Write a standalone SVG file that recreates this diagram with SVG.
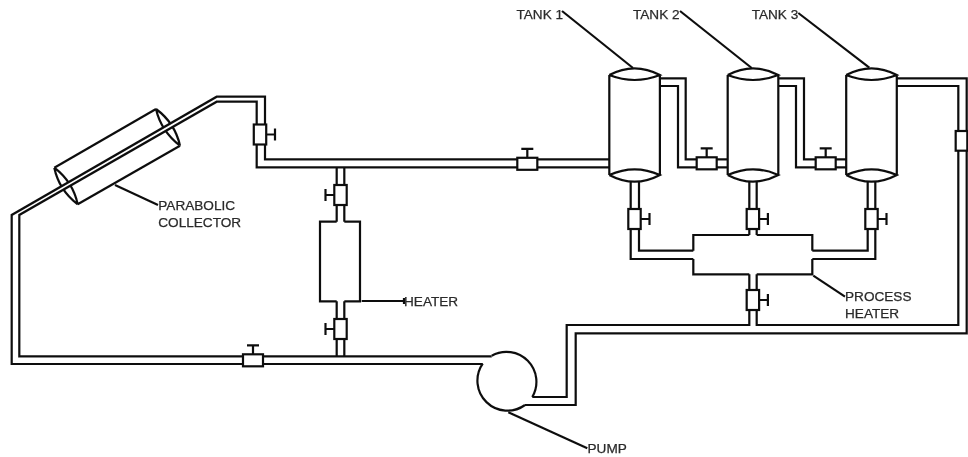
<svg xmlns="http://www.w3.org/2000/svg" xmlns:xlink="http://www.w3.org/1999/xlink" width="968" height="457" viewBox="0 0 968 457">
<style>
.l{fill:none;stroke:#111;stroke-width:2.2;stroke-linejoin:miter}
.b{fill:#fff;stroke:#111;stroke-width:2.2}
.t{font-family:"Liberation Sans",Arial,sans-serif;font-size:13.6px;fill:#2a2a2a;stroke:#2a2a2a;stroke-width:0.25}
</style>
<defs>
<filter id="soft" x="0" y="0" width="968" height="457" filterUnits="userSpaceOnUse"><feGaussianBlur stdDeviation="0.4"/></filter>
<g id="vr"><rect class="b" x="-6.2" y="-10" width="12.4" height="20"/><path class="l" d="M6.2,0H15M15,-6V6"/></g>
<g id="vl"><rect class="b" x="-6.2" y="-10" width="12.4" height="20"/><path class="l" d="M-6.2,0H-15M-15,-6V6"/></g>
<g id="vt"><rect class="b" x="-10" y="-6" width="20" height="12"/><path class="l" d="M0,-6V-15M-6,-15H6"/></g>
<g id="tank"><path class="l" d="M0,0V100M50.6,0V100M0,0Q25.3,-13.4 50.6,0Q25.3,10 0,0M0,100Q25.3,88.6 50.6,100Q25.3,113.4 0,100"/></g>
</defs>
<rect width="968" height="457" fill="#fff"/>
<g filter="url(#soft)">
<g id="parabolic-collector">
<path class="l" d="M54.3,167.7L156,109M77.7,204.3L180,145.7M54.3,167.7Q59,190 77.7,204.3M54.3,167.7Q73,182 77.7,204.3M156,109Q161,131 180,145.7M156,109Q175,123 180,145.7"/>
</g>
<g id="connectors">
<path d="M11.7,215L216.7,96.7V101.7L19.3,215Z" fill="#fff"/>
<path class="l" d="M242.7,364H11.7V215L216.7,96.7H265V125M242.7,356.3H19.3V215L216.7,101.7H256.7V125"/>
<path class="l" d="M256.7,144V167.3H517.3M265,144V159.3H517.3M537.3,159.3H609.3M537.3,167.3H609.3"/>
<path class="l" d="M336.7,167.3V185M344.3,167.3V185M336.7,205V221.7M344.3,205V221.7M336.7,301.3V319M344.3,301.3V319M336.7,339V356.3M344.3,339V356.3"/>
<path class="l" d="M263.3,356.3H491.7M263.3,364H482.7"/>
<path class="l" d="M660,78.3H685.7V159.3H696.7M660,86H678V167.3H696.7M716.7,159.3H727.7M716.7,167.3H727.7"/>
<path class="l" d="M778.3,78.3H804V159.3H815.7M778.3,86H796V167.3H815.7M835.7,159.3H846.3M835.7,167.3H846.3"/>
<path class="l" d="M630.7,181V209M639,181V209M630.7,229.3V259H693.3M639,229.3V250.7H693.3"/>
<path class="l" d="M749.3,181V209M756.7,181V209M749.3,229.3V235M756.7,229.3V235"/>
<path class="l" d="M867.7,181V209M875.3,181V209M875.3,229.3V259H812.3M867.7,229.3V250.7H812.3"/>
<path class="l" d="M749.3,274.3V290M756.7,274.3V290"/>
<path class="l" d="M749.3,310V325H566.7V397H532.3M756.7,310V325H958.3V150.7M958.3,131V86H896.7"/>
<path class="l" d="M525,405H575.7V333.3H966.7V150.7M966.7,131V78.3H896.7"/>
<path class="l" d="M562,11L633,68M680,11L751.7,68M798.3,13L869.3,67.7M115,185L158,205M361.7,301H404M404,298V304M813.3,275.7L845,296.7M508.3,412.3L587.3,448.3"/>
</g>
<g id="tank-1"><use xlink:href="#tank" href="#tank" x="609.3" y="75"/><text class="t" x="516.5" y="19">TANK 1</text></g>
<g id="tank-2"><use xlink:href="#tank" href="#tank" x="727.7" y="75"/><text class="t" x="633" y="19">TANK 2</text></g>
<g id="tank-3"><use xlink:href="#tank" href="#tank" x="846.2" y="75"/><text class="t" x="751.7" y="19">TANK 3</text></g>
<g id="heater"><path class="l" d="M336.7,221.7H320V301.3H336.7M344.3,221.7H360V301.3H344.3"/><text class="t" x="404" y="305.5">HEATER</text></g>
<g id="process-heater"><path class="l" d="M749.3,235H693.3V250.7M693.3,259V274.3H749.3M756.7,235H812.3V250.7M812.3,259V274.3H756.7"/><text class="t" x="845" y="301">PROCESS</text><text class="t" x="845" y="317.7">HEATER</text></g>
<g id="pump"><path class="l" d="M491.7,355.7A30,30 0 0 1 532.3,397M525,405A30,30 0 0 1 482.7,363.7"/><text class="t" x="587.5" y="452.5">PUMP</text></g>
<g id="collector-label"><text class="t" x="158.3" y="210">PARABOLIC</text><text class="t" x="158.3" y="227">COLLECTOR</text></g>
<g id="valve-1"><use xlink:href="#vr" href="#vr" x="260" y="134.5"/></g>
<g id="valve-2"><use xlink:href="#vt" href="#vt" x="527.3" y="163.8"/></g>
<g id="valve-3"><use xlink:href="#vl" href="#vl" x="340.5" y="195"/></g>
<g id="valve-4"><use xlink:href="#vl" href="#vl" x="340.5" y="329"/></g>
<g id="valve-5"><use xlink:href="#vt" href="#vt" x="253" y="360.3"/></g>
<g id="valve-6"><use xlink:href="#vt" href="#vt" x="706.7" y="163.3"/></g>
<g id="valve-7"><use xlink:href="#vt" href="#vt" x="825.7" y="163.3"/></g>
<g id="valve-8"><use xlink:href="#vr" href="#vr" x="634.5" y="219"/></g>
<g id="valve-9"><use xlink:href="#vr" href="#vr" x="752.9" y="219"/></g>
<g id="valve-10"><use xlink:href="#vr" href="#vr" x="871.5" y="219"/></g>
<g id="valve-11"><use xlink:href="#vr" href="#vr" x="752.9" y="300"/></g>
<g id="valve-12"><rect class="b" x="955.7" y="131" width="11.6" height="19.7"/></g>
</g>
</svg>
